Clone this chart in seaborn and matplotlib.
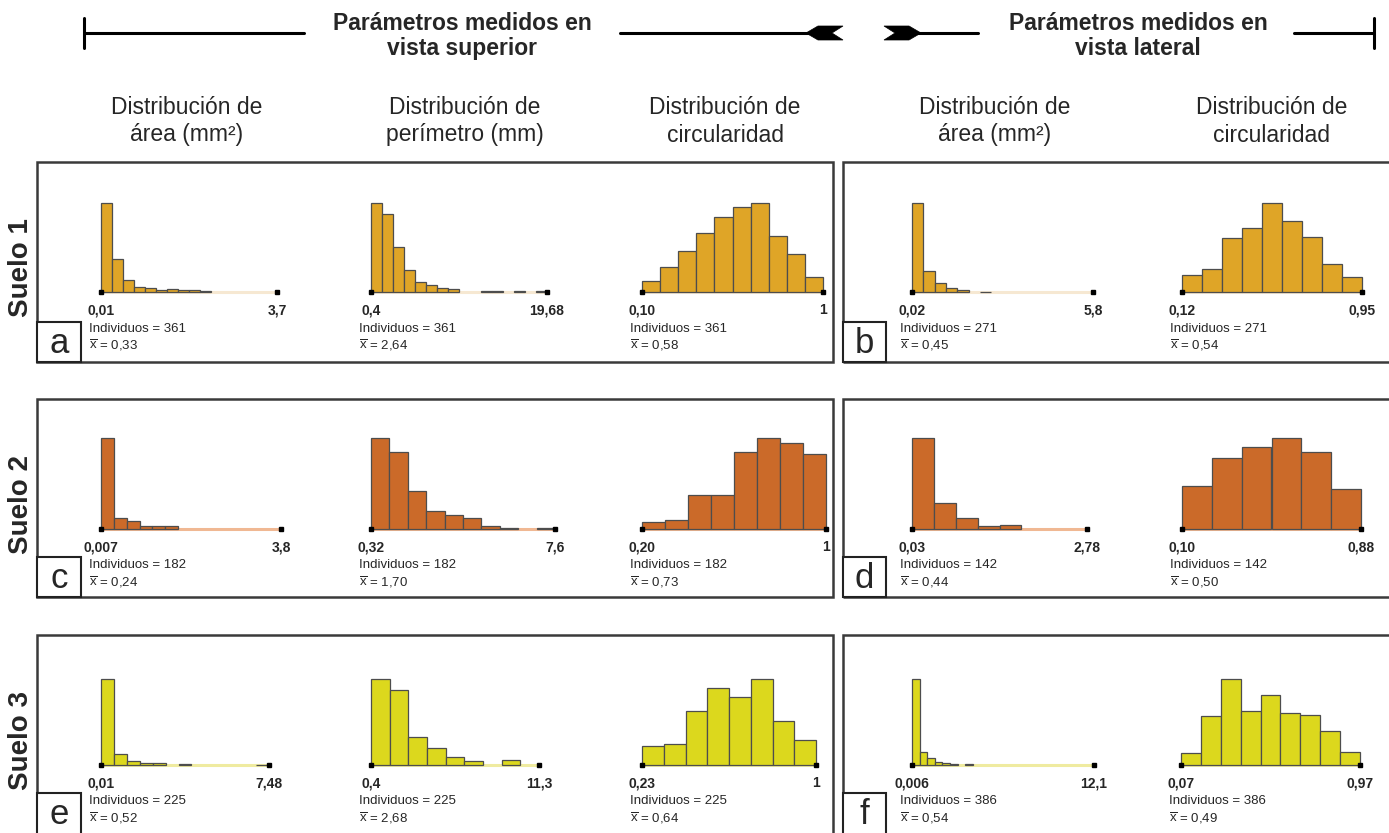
import numpy as np
import pandas as pd
import matplotlib
matplotlib.use("Agg")
import matplotlib.pyplot as plt
from matplotlib.patches import Rectangle, Polygon
from matplotlib.lines import Line2D
import seaborn as sns

sns.set_style("white")
plt.rcParams['font.family'] = ['Liberation Sans', 'DejaVu Sans']
plt.rcParams['mathtext.fontset'] = 'custom'
plt.rcParams['mathtext.rm'] = 'Liberation Sans'

# ---- data (bin counts) ----
suelos = ['Suelo 1', 'Suelo 2', 'Suelo 3']
letras = [['a', 'b'], ['c', 'd'], ['e', 'f']]
individuos = [[361, 271], [182, 142], [225, 386]]

col_titles = ['Distribución de\nárea (mm²)',
              'Distribución de\nperímetro (mm)',
              'Distribución de\ncircularidad',
              'Distribución de\nárea (mm²)',
              'Distribución de\ncircularidad']
header_titles = ['Parámetros medidos en\nvista superior',
                 'Parámetros medidos en\nvista lateral']

# suelo 1
area_sup_1 = [211, 79, 28, 12, 10, 5, 6, 4, 4, 2, 0, 0, 0, 0, 0, 0]
perim_sup_1 = [123, 108, 62, 30, 14, 10, 6, 4, 0, 0, 1, 1, 0, 1, 0, 1]
circ_sup_1 = [8, 18, 30, 43, 55, 62, 65, 41, 28, 11]
area_lat_1 = [192, 45, 19, 9, 5, 0, 1, 0, 0, 0, 0, 0, 0, 0, 0, 0]
circ_lat_1 = [11, 15, 35, 42, 58, 46, 36, 18, 10]
# suelo 2
area_sup_2 = [139, 17, 12, 5, 5, 4, 0, 0, 0, 0, 0, 0, 0, 0]
perim_sup_2 = [65, 55, 27, 13, 10, 8, 2, 1, 0, 1]
circ_sup_2 = [3, 4, 15, 15, 34, 40, 38, 33]
area_lat_2 = [96, 27, 12, 3, 4, 0, 0, 0]
circ_lat_2 = [15, 25, 29, 32, 27, 14]
# suelo 3
area_sup_3 = [181, 24, 9, 4, 4, 0, 2, 0, 0, 0, 0, 0, 1]
perim_sup_3 = [87, 76, 28, 17, 8, 4, 0, 5, 0]
circ_sup_3 = [11, 12, 31, 44, 39, 49, 25, 14]
area_lat_3 = [290, 45, 24, 11, 7, 4, 0, 5] + [0] * 16
circ_lat_3 = [11, 45, 79, 50, 64, 48, 46, 31, 12]

counts = [[area_sup_1, perim_sup_1, circ_sup_1, area_lat_1, circ_lat_1],
          [area_sup_2, perim_sup_2, circ_sup_2, area_lat_2, circ_lat_2],
          [area_sup_3, perim_sup_3, circ_sup_3, area_lat_3, circ_lat_3]]

lo_labels = [['0,01', '0,4', '0,10', '0,02', '0,12'],
             ['0,007', '0,32', '0,20', '0,03', '0,10'],
             ['0,01', '0,4', '0,23', '0,006', '0,07']]
hi_labels = [['3,7', '19,68', '1', '5,8', '0,95'],
             ['3,8', '7,6', '1', '2,78', '0,88'],
             ['7,48', '11,3', '1', '12,1', '0,97']]
medias = [['0,33', '2,64', '0,58', '0,45', '0,54'],
          ['0,24', '1,70', '0,73', '0,44', '0,50'],
          ['0,52', '2,68', '0,64', '0,54', '0,49']]

bar_colors = ['#DFA527', '#CB6A29', '#DCD81D']
light_colors = ['#F6E8D2', '#F0B893', '#EFEBA0']

# ---- layout (pixels) ----
W, H = 1389, 833
col_px = [[(101, 277), (371, 547), (642, 823), (912, 1093), (1182, 1362)],
          [(101, 281), (371, 555), (642, 826), (912, 1087), (1182, 1361)],
          [(101, 269), (371, 539), (642, 816), (912, 1094), (1181, 1360)]]
baselines = [292, 529, 765]
tops = [203, 438, 679]
box_y = [(162, 362), (399, 597), (635, 845)]


def fx(px):
    return px / W


def fy(py):
    return 1 - py / H


fig = plt.figure(figsize=(W / 100, H / 100), dpi=100)

# panel boxes
for r, (y0, y1) in enumerate(box_y):
    for (x0, x1) in [(37, 833), (843, 1400)]:
        fig.add_artist(Rectangle((fx(x0), fy(y1)), fx(x1) - fx(x0), fy(y0) - fy(y1),
                                 transform=fig.transFigure, fill=False,
                                 lw=1.8, ec='#3a3a3a', zorder=1))

# histograms
for r in range(3):
    base, top = baselines[r], tops[r]
    for c in range(5):
        x0, x1 = col_px[r][c]
        vals = counts[r][c]
        lo = float(lo_labels[r][c].replace(',', '.'))
        hi = float(hi_labels[r][c].replace(',', '.'))
        edges = np.linspace(lo, hi, len(vals) + 1)
        df = pd.DataFrame({'valor': (edges[:-1] + edges[1:]) / 2, 'n': vals})
        ax = fig.add_axes([fx(x0), fy(base), (x1 - x0) / W, (base - top) / H])
        ax.plot([lo, hi], [0, 0], color=light_colors[r], lw=2.2, zorder=0,
                solid_capstyle='butt', clip_on=False)
        sns.histplot(data=df, x='valor', weights='n', bins=len(vals), binrange=(lo, hi),
                     ax=ax, color=bar_colors[r], edgecolor='#4d4d4d', linewidth=0.9,
                     alpha=1, zorder=2)
        for p in ax.patches:
            p.set_clip_on(False)
            if p.get_height() == 0:
                p.set_visible(False)
        ax.plot([lo, hi], [0, 0], 's', color='black', ms=3.2, clip_on=False, zorder=5)
        ax.set_xlim(lo, hi)
        ax.set_ylim(0, max(vals))
        ax.axis('off')

        fig.text(fx(x0), fy(base + 18), lo_labels[r][c], ha='center', va='center',
                 fontsize=10, fontweight='bold')
        fig.text(fx(x1), fy(base + 18), hi_labels[r][c], ha='center', va='center',
                 fontsize=10, fontweight='bold')
        n = individuos[r][0 if c < 3 else 1]
        fig.text(fx(x0 - 12), fy(base + 36.5), f'Individuos = {n}', ha='left',
                 va='center', fontsize=9.5)
        fig.text(fx(x0 - 12), fy(base + 53), r'$\overline{\mathrm{x}}$ = ' + medias[r][c],
                 ha='left', va='center', fontsize=9.5)

    # panel letters
    y0, y1 = box_y[r]
    yb = min(y1, 833)
    for k, (bx0, bx1) in enumerate([(37, 81), (843, 886)]):
        bt = yb - 40 if r < 2 else 793
        fig.add_artist(Rectangle((fx(bx0), fy(y1)), fx(bx1) - fx(bx0), fy(bt) - fy(y1),
                                 transform=fig.transFigure, fc='white', ec='#222222',
                                 lw=1.5, zorder=3))
        fig.text(fx((bx0 + bx1) / 2), fy(bt + 31), letras[r][k], ha='center',
                 va='baseline', fontsize=25, zorder=4)

    # soil labels
    fig.text(fx(21), fy((y0 + min(y1, 835)) / 2 + 6), suelos[r], rotation=90,
             ha='center', va='center', fontsize=20, fontweight='bold')

# column titles
title_x = [187, 465, 725, 995, 1272]
for tx, t in zip(title_x, col_titles):
    fig.text(fx(tx), fy(96), t, ha='center', va='top', multialignment='center',
             fontsize=16.5, linespacing=1.25)

# header
for hx, t in zip([462, 1138], header_titles):
    fig.text(fx(hx), fy(12), t, ha='center', va='top', multialignment='center',
             fontsize=16.5, fontweight='bold', linespacing=1.1)

hy = 33
for (xa, xb) in [(84, 304), (620, 810), (916, 978), (1294, 1374)]:
    fig.add_artist(Line2D([fx(xa), fx(xb)], [fy(hy), fy(hy)], transform=fig.transFigure,
                          color='black', lw=2.2))
for xv in [84, 1374]:
    fig.add_artist(Line2D([fx(xv), fx(xv)], [fy(18), fy(48)], transform=fig.transFigure,
                          color='black', lw=2.2))
left_tip = [(806, 33), (818, 26), (843, 26), (832, 33), (843, 40), (818, 40)]
right_tip = [(921, 33), (909, 26), (884, 26), (895, 33), (884, 40), (909, 40)]
for pts in [left_tip, right_tip]:
    fig.add_artist(Polygon([(fx(a), fy(b)) for a, b in pts], closed=True,
                           transform=fig.transFigure, fc='black', ec='black', lw=0.5))

fig.savefig('out.png', dpi=100, facecolor='white')
